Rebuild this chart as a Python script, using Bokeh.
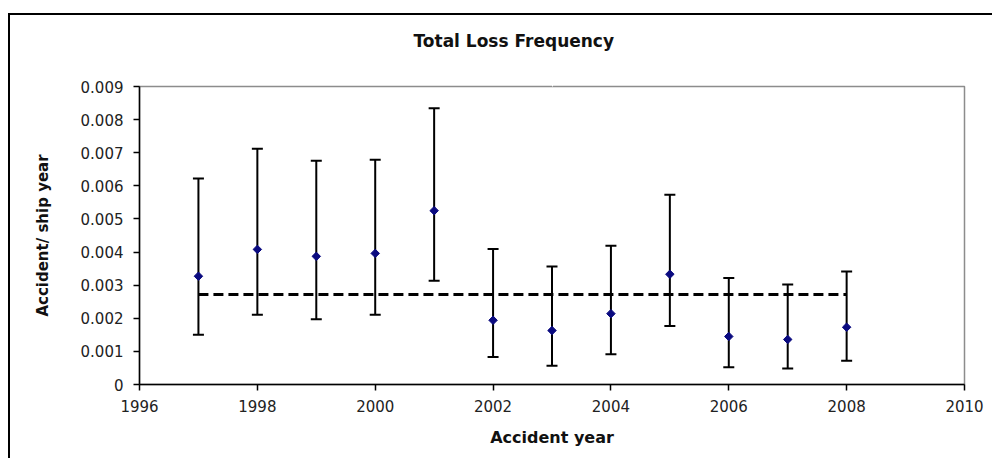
from bokeh.plotting import figure
from bokeh.models import ColumnDataSource, Whisker, TeeHead, FixedTicker, Range1d, LinearAxis
from bokeh.embed import file_html
from bokeh.resources import INLINE

# Total loss frequency per accident year, with confidence bounds
years = [1997, 1998, 1999, 2000, 2001, 2002, 2003, 2004, 2005, 2006, 2007, 2008]
frequency = [0.00327, 0.00408, 0.00387, 0.00396, 0.00525, 0.00194,
             0.00163, 0.00214, 0.00333, 0.00145, 0.00136, 0.00173]
upper = [0.00622, 0.00712, 0.00676, 0.00679, 0.00834, 0.00409,
         0.00356, 0.00419, 0.00573, 0.00322, 0.00302, 0.00341]
lower = [0.00150, 0.00211, 0.00197, 0.00211, 0.00313, 0.00083,
         0.00057, 0.00091, 0.00177, 0.00052, 0.00048, 0.00072]

# Average frequency over the period
mean_span = [1997, 2008]
mean_frequency = [0.00272, 0.00272]

x_ticks = [1996, 1998, 2000, 2002, 2004, 2006, 2008, 2010]
y_ticks = [0, 0.001, 0.002, 0.003, 0.004, 0.005, 0.006, 0.007, 0.008, 0.009]
y_tick_labels = ["0", "0.001", "0.002", "0.003", "0.004", "0.005",
                 "0.006", "0.007", "0.008", "0.009"]

# Single unlabeled tick for the blank top axis that spaces the title
spacer_ticks = [2003]

FONT = "DejaVu Sans"

src = ColumnDataSource(dict(year=years, freq=frequency, upper=upper, lower=lower))

p = figure(
    width=984, height=445,
    x_range=Range1d(1996, 2010), y_range=Range1d(0, 0.009),
    output_backend="svg", toolbar_location=None,
    min_border_left=129, min_border_right=30,
    min_border_top=71, min_border_bottom=76,
    title="Total Loss Frequency",
    margin=(13, 0, 0, 8),
    styles={"border-left": "2px solid #000", "border-top": "2px solid #000"},
)

p.background_fill_color = "white"
p.border_fill_color = "white"
p.outline_line_color = "#8c8c8c"
p.outline_line_width = 1.5
p.xgrid.grid_line_color = None
p.ygrid.grid_line_color = None

x_axis = p.below[0]
y_axis = p.left[0]

for ax in (x_axis, y_axis):
    ax.axis_line_color = "#000000"
    ax.axis_line_width = 1.5
    ax.major_tick_line_color = "#000000"
    ax.major_tick_line_width = 1.5
    ax.major_tick_in = 0
    ax.major_tick_out = 6
    ax.minor_tick_line_color = None
    ax.major_label_text_font = FONT
    ax.major_label_text_font_size = "15px"
    ax.major_label_text_color = "#222222"
    ax.axis_label_text_font = FONT
    ax.axis_label_text_font_style = "bold"
    ax.axis_label_text_color = "#111111"

x_axis.ticker = FixedTicker(ticks=x_ticks)
x_axis.major_label_standoff = 9
x_axis.axis_label = "Accident year"
x_axis.axis_label_text_font_size = "16px"
x_axis.axis_label_standoff = 13

y_axis.ticker = FixedTicker(ticks=y_ticks)
y_axis.major_label_overrides = {t: lab for t, lab in zip(y_ticks, y_tick_labels)}
y_axis.major_label_standoff = 10
y_axis.axis_label = "Accident/ ship year"
y_axis.axis_label_text_font_size = "15px"
y_axis.axis_label_standoff = 26

# Blank white axis on top: its tick length sets the gap between title and frame
gap_axis = LinearAxis(
    ticker=FixedTicker(ticks=spacer_ticks),
    axis_line_color=None,
    major_tick_line_color="#ffffff", major_tick_line_width=1,
    minor_tick_line_color=None,
    major_tick_in=0, major_tick_out=36,
    minor_tick_in=0, minor_tick_out=0,
    major_label_standoff=0,
    major_label_overrides={t: "" for t in spacer_ticks},
    major_label_text_font_size="1px",
    major_label_text_color="#ffffff",
)
p.add_layout(gap_axis, "above")

p.title.align = "left"
p.title.offset = 274
p.title.standoff = 0
p.title.text_font = FONT
p.title.text_font_size = "17px"
p.title.text_font_style = "bold"
p.title.text_color = "#111111"

# Dashed mean line
p.line(mean_span, mean_frequency, line_color="#000000", line_width=3, line_dash="10 5")

# Error bars
whisker = Whisker(
    source=src, base="year", upper="upper", lower="lower",
    line_color="#000000", line_width=2,
    upper_head=TeeHead(size=11, line_color="#000000", line_width=2),
    lower_head=TeeHead(size=11, line_color="#000000", line_width=2),
)
p.add_layout(whisker)

# Frequency markers (diamonds)
p.scatter("year", "freq", source=src, marker="square", angle=0.785398,
          size=6, fill_color="#0a0a80", line_color="#0a0a80")

open("out.html", "w").write(file_html(p, INLINE))
